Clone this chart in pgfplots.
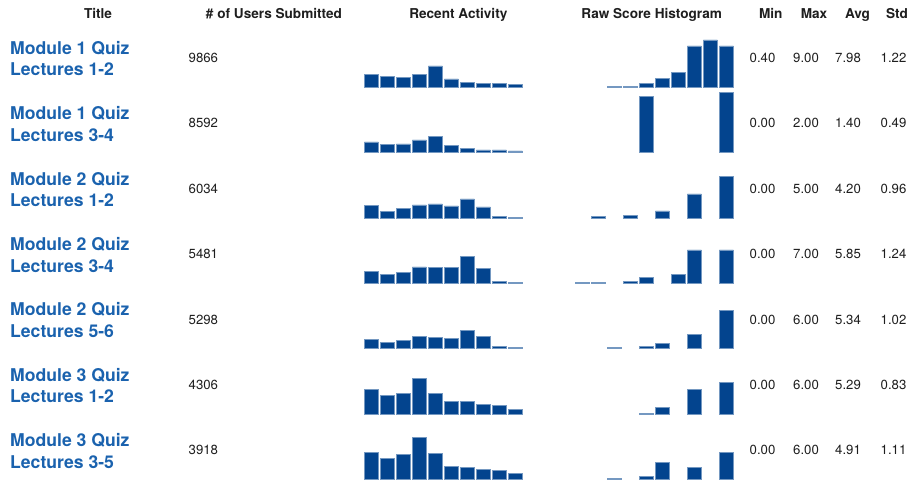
\documentclass[border=0pt]{standalone}
\usepackage{fontspec}
\setmainfont{TeX Gyre Heros}
\usepackage{pgfplots}
\pgfplotsset{compat=1.18}
\definecolor{barblue}{RGB}{3,68,142}
\definecolor{titleblue}{RGB}{26,98,174}
\definecolor{txt}{RGB}{30,30,30}
\pgfplotsset{spark/.style={anchor=south west, scale only axis, width=160pt, height=70pt,
  xmin=-0.5, xmax=9.5, ymin=0, ymax=70, hide axis, ybar, bar width=0.875, bar shift=0pt, clip=false}}
\newcommand{\spark}[3]{%
  \pgfmathsetmacro{\sx}{#1}\pgfmathsetmacro{\sy}{480-#2}%
  \begin{axis}[spark, at={(\sx pt,\sy pt)}]
    \addplot[fill=barblue, draw=barblue!55!white, line width=0.5pt] coordinates {#3};
  \end{axis}}
\newcommand{\hdr}{\fontsize{13.6}{16}\selectfont\bfseries\color{txt}}
\newcommand{\ttl}{\fontsize{17.6}{21}\selectfont\bfseries\color{titleblue}}
\newcommand{\val}{\fontsize{13.2}{15}\selectfont\color{txt}}
\newcommand{\row}[8]{% baseline, line1, line2, users, min, max, avg, std
  \node[anchor=base west, inner sep=0pt] at (10,480-#1+33) {\ttl #2};
  \node[anchor=base west, inner sep=0pt] at (10,480-#1+11.3) {\ttl #3};
  \node[anchor=base west, inner sep=0pt] at (188.5,480-#1+24.7) {\val #4};
  \node[anchor=base west, inner sep=0pt] at (749.5,480-#1+24.7) {\val #5};
  \node[anchor=base west, inner sep=0pt] at (793,480-#1+24.7) {\val #6};
  \node[anchor=base west, inner sep=0pt] at (835,480-#1+24.7) {\val #7};
  \node[anchor=base west, inner sep=0pt] at (880.5,480-#1+24.7) {\val #8};
}
\begin{document}
\begin{tikzpicture}[x=1pt,y=1pt]
\path (0,0) rectangle (915,480);
% headers
\node[anchor=base, inner sep=0pt] at (98,461) {\hdr Title};
\node[anchor=base, inner sep=0pt] at (274,461) {\hdr \# of Users Submitted};
\node[anchor=base, inner sep=0pt] at (458.3,461) {\hdr Recent Activity};
\node[anchor=base, inner sep=0pt] at (651.7,461) {\hdr Raw Score Histogram};
\node[anchor=base, inner sep=0pt] at (770.8,461) {\hdr Min};
\node[anchor=base, inner sep=0pt] at (814,461) {\hdr Max};
\node[anchor=base, inner sep=0pt] at (857.5,461) {\hdr Avg};
\node[anchor=base, inner sep=0pt] at (897,461) {\hdr Std};
% rows
\row{87.3}{Module 1 Quiz}{Lectures 1-2}{9866}{0.40}{9.00}{7.98}{1.22}
\row{152.7}{Module 1 Quiz}{Lectures 3-4}{8592}{0.00}{2.00}{1.40}{0.49}
\row{218.3}{Module 2 Quiz}{Lectures 1-2}{6034}{0.00}{5.00}{4.20}{0.96}
\row{283.3}{Module 2 Quiz}{Lectures 3-4}{5481}{0.00}{7.00}{5.85}{1.24}
\row{348.7}{Module 2 Quiz}{Lectures 5-6}{5298}{0.00}{6.00}{5.34}{1.02}
\row{414}{Module 3 Quiz}{Lectures 1-2}{4306}{0.00}{6.00}{5.29}{0.83}
\row{479.3}{Module 3 Quiz}{Lectures 3-5}{3918}{0.00}{6.00}{4.91}{1.11}
% recent activity sparklines
\spark{363.3}{87.3}{(0,13.0)(1,11.0)(2,10.0)(3,13.0)(4,21.3)(5,8.3)(6,4.7)(7,3.7)(8,3.7)(9,2.7)}
\spark{363.3}{152.7}{(0,10.7)(1,8.0)(2,8.7)(3,12.7)(4,16.3)(5,7.0)(6,4.3)(7,2.7)(8,2.7)(9,1.7)}
\spark{363.3}{218.3}{(0,13.0)(1,6.7)(2,10.0)(3,13.3)(4,14.3)(5,12.3)(6,19.3)(7,11.3)(8,2.0)(9,1.0)}
\spark{363.3}{283.3}{(0,11.7)(1,9.3)(2,11.0)(3,16.3)(4,15.7)(5,15.7)(6,26.7)(7,14.7)(8,2.0)(9,1.0)}
\spark{363.3}{348.7}{(0,9.3)(1,6.3)(2,8.3)(3,12.0)(4,11.0)(5,10.0)(6,18.3)(7,12.0)(8,2.0)(9,1.0)}
\spark{363.3}{414}{(0,25.0)(1,18.3)(2,21.0)(3,36.0)(4,21.0)(5,13.0)(6,13.0)(7,10.0)(8,8.3)(9,4.7)}
\spark{363.3}{479.3}{(0,26.7)(1,21.0)(2,25.0)(3,42.3)(4,25.7)(5,13.0)(6,12.0)(7,10.0)(8,9.3)(9,6.3)}
% raw score histograms
\spark{574.3}{87.3}{(2,1.0)(3,1.0)(4,3.7)(5,9.0)(6,14.7)(7,41.3)(8,47.3)(9,41.3)}
\spark{574.3}{152.7}{(4,56.0)(9,60.3)}
\spark{574.3}{218.3}{(1,2.0)(3,3.0)(5,7.3)(7,24.3)(9,41.7)}
\spark{574.3}{283.3}{(0,1.0)(1,1.0)(3,2.0)(4,5.7)(6,9.3)(7,33.3)(9,33.3)}
\spark{574.3}{348.7}{(2,1.0)(4,2.0)(5,5.7)(7,14.7)(9,38.3)}
\spark{574.3}{414}{(4,1.0)(5,6.7)(7,25.0)(9,31.3)}
\spark{574.3}{479.3}{(2,1.0)(4,2.7)(5,16.7)(7,12.0)(9,26.7)}
\end{tikzpicture}
\end{document}
